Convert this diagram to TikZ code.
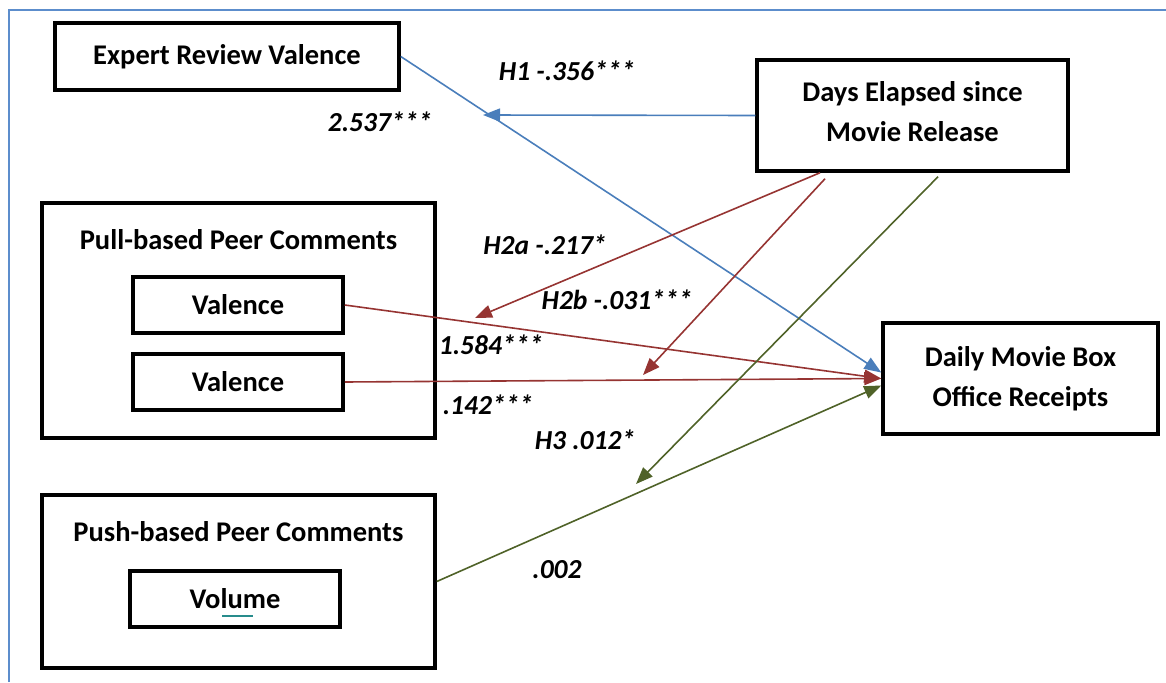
\documentclass[tikz,border=0pt]{standalone}
\usepackage{fontspec}
\setmainfont{Carlito}
\usetikzlibrary{arrows.meta}
\definecolor{linkblue}{RGB}{74,126,187}
\definecolor{linkred}{RGB}{150,52,50}
\definecolor{linkgreen}{RGB}{79,98,40}
\definecolor{frameblue}{RGB}{92,141,204}
\definecolor{spellteal}{RGB}{40,140,140}
\begin{document}
\begin{tikzpicture}[x=1pt,y=-1pt,
    box/.style={draw,line width=3.5pt,inner sep=0pt,align=center,
      font=\fontsize{28.5}{40}\selectfont\bfseries},
    grp/.style={draw,line width=3.5pt,inner sep=0pt},
    title/.style={font=\fontsize{28.5}{34}\selectfont\bfseries,inner sep=0pt},
    lbl/.style={font=\fontsize{27.5}{33}\selectfont\bfseries\itshape,inner sep=0pt},
    conn/.style={line width=1.6pt,-{Triangle[length=17pt,width=13pt]}}]
  \useasboundingbox (0,0) rectangle (1166,682);
  \draw[frameblue,line width=2.5pt] (9,682) -- (9,10) -- (1166,10);
  % constructs
  \node[box,minimum width=344pt,minimum height=67pt] (expert) at (227,56.5) {Expert Review Valence};
  \node[box,minimum width=311pt,minimum height=111pt] (days) at (912.5,115.5) {Days Elapsed since\\Movie Release\vspace{8pt}};
  \node[box,minimum width=275pt,minimum height=111pt] (daily) at (1020.5,378.5) {Daily Movie Box\\Office Receipts};
  \node[grp,minimum width=393pt,minimum height=235pt] (pull) at (238.5,320.5) {};
  \node[title] (pulltitle) at (238.5,240) {Pull-based Peer Comments};
  \node[box,minimum width=210pt,minimum height=56pt] (val1) at (238,305) {Valence};
  \node[box,minimum width=210pt,minimum height=56pt] (val2) at (238,382) {Valence};
  \node[grp,minimum width=393pt,minimum height=173pt] (push) at (238.5,581.5) {};
  \node[title] (pushtitle) at (238.5,532) {Push-based Peer Comments};
  \node[box,minimum width=210pt,minimum height=56pt] (volume) at (235,599) {Volume};
  \draw[spellteal,line width=1.5pt] (222,616) -- (253,616);
  % moderation end points
  \coordinate (h1tip) at (483,115);
  \coordinate (h2atip) at (475,318);
  \coordinate (h2btip) at (643,375);
  \coordinate (h3tip) at (636,484);
  % paths
  \draw[conn,linkblue] (expert.east) -- ([yshift=6pt]daily.west);
  \draw[conn,linkblue] (days.west) -- (h1tip);
  \draw[conn,linkred] (val1.east) -- (daily.west);
  \draw[conn,linkred] (val2.east) -- (daily.west);
  \draw[conn,linkred] ([xshift=-92.5pt]days.south) -- (h2atip);
  \draw[conn,linkred] ([xshift=-87.5pt,yshift=-6pt]days.south) -- (h2btip);
  \draw[conn,linkgreen] (push.east) -- ([yshift=-7pt]daily.west);
  \draw[conn,linkgreen] ([xshift=25.5pt,yshift=-4pt]days.south) -- (h3tip);
  % coefficients
  \node[lbl] (h1) at (567,71) {H1 -.356***};
  \node[lbl] (b1) at (380,122) {2.537***};
  \node[lbl] (h2a) at (545,245) {H2a -.217*};
  \node[lbl] (h2b) at (617,300) {H2b -.031***};
  \node[lbl] (b2) at (491,345) {1.584***};
  \node[lbl] (b3) at (488,405) {.142***};
  \node[lbl] (h3) at (585,440) {H3 .012*};
  \node[lbl] (b4) at (557,570) {.002};
\end{tikzpicture}
\end{document}
